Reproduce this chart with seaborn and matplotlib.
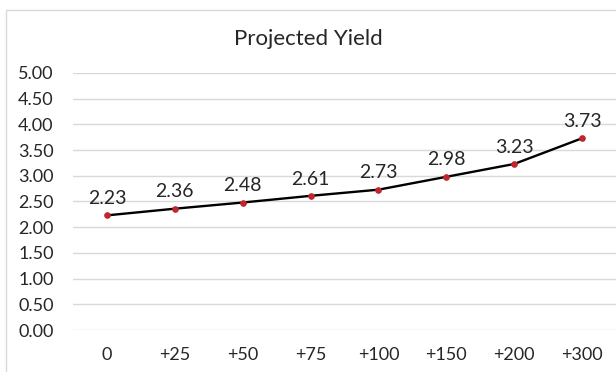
import matplotlib
matplotlib.use('Agg')
import matplotlib.pyplot as plt
import seaborn as sns
import pandas as pd

# data
categories = ['0', '+25', '+50', '+75', '+100', '+150', '+200', '+300']
yields = [2.23, 2.36, 2.48, 2.61, 2.73, 2.98, 3.23, 3.73]
y_ticks = [0.0, 0.5, 1.0, 1.5, 2.0, 2.5, 3.0, 3.5, 4.0, 4.5, 5.0]

df = pd.DataFrame({'shift': categories, 'yield': yields})
df['pos'] = range(len(df))

sns.set_style('white')
plt.rcParams['font.family'] = ['Lato', 'DejaVu Sans']

fig = plt.figure(figsize=(6.16, 3.72), dpi=100)
ax = fig.add_axes([0.1185, 0.1129, 0.8815, 0.6909])

sns.lineplot(data=df, x='pos', y='yield', ax=ax, color='black', linewidth=1.7,
             marker='o', markersize=4, markerfacecolor='#c0262d',
             markeredgecolor='#c0262d')

for x, y in zip(df['pos'], df['yield']):
    ax.annotate(f'{y:.2f}', (x, y), xytext=(0, 6), textcoords='offset points',
                ha='center', va='bottom', fontsize=14, color='#262626')

ax.set_xlim(-0.5, len(categories) - 0.5)
ax.set_ylim(0, 5)
ax.set_yticks(y_ticks)
ax.set_yticklabels([f'{t:.2f}' for t in y_ticks])
ax.set_xticks(df['pos'])
ax.set_xticklabels(categories)
ax.tick_params(axis='both', labelsize=13, colors='#262626', length=0)
ax.tick_params(axis='x', pad=12)
ax.tick_params(axis='y', pad=14)
ax.grid(axis='y', color='#d9d9d9', linewidth=1)
ax.set_axisbelow(True)
for s in ax.spines.values():
    s.set_visible(False)
ax.set_xlabel('')
ax.set_ylabel('')

fig.text(0.5, 0.895, 'Projected Yield', ha='center', va='center',
         fontsize=16, color='#262626')

# light chart-area border
border = plt.Rectangle((6 / 616, -0.01), 1.0, 1 - 10 / 372 + 0.01,
                       transform=fig.transFigure, fill=False,
                       edgecolor='#d9d9d9', linewidth=1)
fig.patches.append(border)

fig.savefig('out.png', dpi=100)
